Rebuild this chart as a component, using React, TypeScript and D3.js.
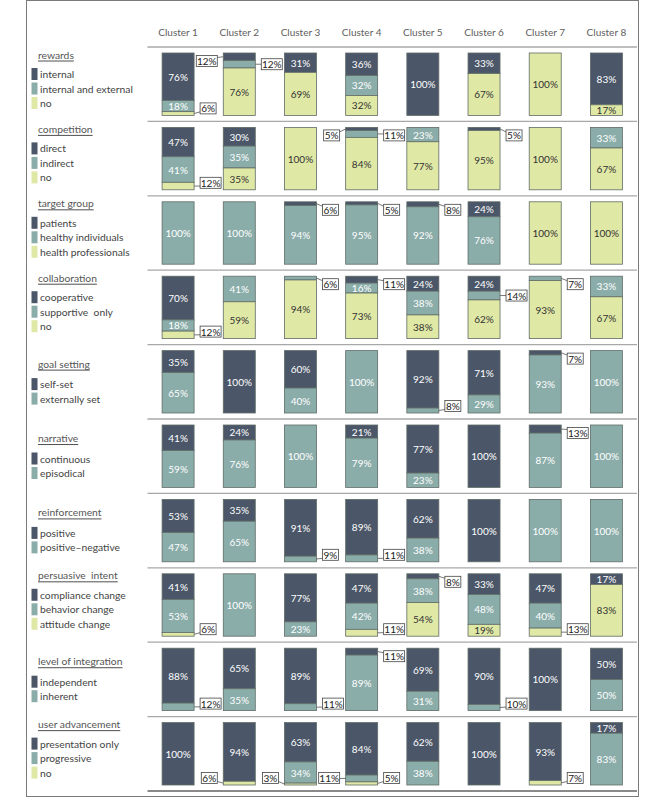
import React from "react";
import * as d3 from "d3";

const clusters = ["Cluster 1", "Cluster 2", "Cluster 3", "Cluster 4", "Cluster 5", "Cluster 6", "Cluster 7", "Cluster 8"];

// each row: values per cluster, in legend order (top segment first)
const rewards = [[76, 18, 6], [12, 12, 76], [31, 0, 69], [36, 32, 32], [100, 0, 0], [33, 0, 67], [0, 0, 100], [83, 0, 17]];
const competition = [[47, 41, 12], [30, 35, 35], [0, 0, 100], [5, 11, 84], [0, 23, 77], [5, 0, 95], [0, 0, 100], [0, 33, 67]];
const targetGroup = [[0, 100, 0], [0, 100, 0], [6, 94, 0], [5, 95, 0], [8, 92, 0], [24, 76, 0], [0, 0, 100], [0, 0, 100]];
const collaboration = [[70, 18, 12], [0, 41, 59], [0, 6, 94], [11, 16, 73], [24, 38, 38], [24, 14, 62], [0, 7, 93], [0, 33, 67]];
const goalSetting = [[35, 65], [100, 0], [60, 40], [0, 100], [92, 8], [71, 29], [7, 93], [0, 100]];
const narrative = [[41, 59], [24, 76], [0, 100], [21, 79], [77, 23], [100, 0], [13, 87], [0, 100]];
const reinforcement = [[53, 47], [35, 65], [91, 9], [89, 11], [62, 38], [100, 0], [0, 100], [0, 100]];
const persuasiveIntent = [[41, 53, 6], [0, 100, 0], [77, 23, 0], [47, 42, 11], [8, 38, 54], [33, 48, 19], [47, 40, 13], [17, 0, 83]];
const integration = [[88, 12], [65, 35], [89, 11], [11, 89], [69, 31], [90, 10], [100, 0], [50, 50]];
const userAdvancement = [[100, 0, 0], [94, 0, 6], [63, 34, 3], [84, 11, 5], [62, 38, 0], [100, 0, 0], [93, 0, 7], [17, 83, 0]];

const rows = [
  { title: "rewards", cats: ["internal", "internal and external", "no"], values: rewards },
  { title: "competition", cats: ["direct", "indirect", "no"], values: competition },
  { title: "target group", cats: ["patients", "healthy individuals", "health professionals"], values: targetGroup },
  { title: "collaboration", cats: ["cooperative", "supportive  only", "no"], values: collaboration },
  { title: "goal setting", cats: ["self-set", "externally set"], values: goalSetting },
  { title: "narrative", cats: ["continuous", "episodical"], values: narrative },
  { title: "reinforcement", cats: ["positive", "positive\u2013negative"], values: reinforcement },
  { title: "persuasive  intent", cats: ["compliance change", "behavior change", "attitude change"], values: persuasiveIntent },
  { title: "level of integration", cats: ["independent", "inherent"], values: integration },
  { title: "user advancement", cats: ["presentation only", "progressive", "no"], values: userAdvancement },
];

// callouts drawn on the left of the bar (row-cluster-segment)
const leftCallouts = ["0-1-0", "1-3-0", "9-1-2", "9-2-2", "9-3-1"];

const colors3 = ["#4b5769", "#8badaa", "#e0e8a6"];
const colors2 = ["#4b5769", "#8badaa"];
const FONT = "Lato, 'Open Sans', sans-serif";

export default function App() {
  const W = 666;
  const H = 799;
  const x = d3.scaleBand().domain(clusters).range([147.5, 637]).paddingInner(0.477).paddingOuter(0.2385);
  const y = d3.scaleBand().domain(rows.map((r) => r.title)).range([47, 791]).paddingInner(0).paddingOuter(0);
  const bw = x.bandwidth();
  const bh = y.bandwidth();

  return (
    <svg width={W} height={H} style={{ position: "absolute", left: 0, top: 0 }} fontFamily={FONT}>
      <rect x={26.5} y={0.5} width={612} height={796} fill="#fff" stroke="#7a7a7a" strokeWidth={1} />
      {clusters.map((c) => (
        <text key={c} x={x(c)! + bw / 2} y={32} textAnchor="middle" dominantBaseline="central" fontSize={10} fill="#606060">
          {c}
        </text>
      ))}
      {d3.range(rows.length + 1).map((i) => {
        const yy = 47 + i * bh;
        const last = i === rows.length;
        return (
          <line key={i} x1={147.5} x2={637} y1={yy} y2={yy} stroke={last ? "#8a8a8a" : "#a8a8a8"} strokeWidth={last ? 2.2 : 1.3} />
        );
      })}
      {rows.map((row, ri) => {
        const top = y(row.title)!;
        const three = row.cats.length === 3;
        const colors = three ? colors3 : colors2;
        const titleY = top + (three ? 7.5 : 19);
        const itemY = (k: number) => top + (three ? 27 : 39.5) + k * 14.5;
        const ys = d3.scaleLinear().domain([0, 100]).range([top + 6, top + bh - 6]);
        const table = row.values.map((v, ci) => {
          const o: any = { cluster: clusters[ci] };
          row.cats.forEach((k, j) => (o[k] = v[j]));
          return o;
        });
        const series = d3.stack<any>().keys(row.cats)(table);
        const labels: any[] = [];
        const callouts: any[] = [];
        series.forEach((s, si) => {
          s.forEach((d, ci) => {
            const v = d[1] - d[0];
            if (v <= 0) return;
            const y0 = ys(d[0]);
            const y1 = ys(d[1]);
            const cx = x(clusters[ci])!;
            const mid = (y0 + y1) / 2;
            if (v >= 15) {
              labels.push({ key: `${si}-${ci}`, x: cx + bw / 2, y: mid, t: `${v}%`, fill: si === 2 ? "#333" : "#fff" });
            } else {
              const left = leftCallouts.includes(`${ri}-${ci}-${si}`);
              const t = `${v}%`;
              const boxW = t.length === 2 ? 16 : 21;
              const boxH = 11;
              const by = Math.max(ys(0) + 8, Math.min(ys(100) - 7, mid));
              const bx = left ? cx - 6 - boxW : cx + bw + 6;
              const ax = left ? cx : cx + bw;
              const ex = left ? bx + boxW : bx;
              const ey = Math.max(by - boxH / 2 + 2, Math.min(by + boxH / 2 - 2, mid));
              callouts.push({ key: `${si}-${ci}`, bx, by, boxW, boxH, ax, ay: mid, ex, ey, t });
            }
          });
        });
        return (
          <g key={row.title}>
            <text x={38} y={titleY} dominantBaseline="central" fontSize={10.3} fill="#555" textDecoration="underline" style={{ whiteSpace: "pre" }}>
              {row.title}
            </text>
            {row.cats.map((c, k) => (
              <g key={c}>
                <rect x={31.5} y={itemY(k) - 6} width={6} height={12} fill={colors[k]} />
                <text x={40} y={itemY(k)} dominantBaseline="central" fontSize={10.3} fill="#444" style={{ whiteSpace: "pre" }}>
                  {c}
                </text>
              </g>
            ))}
            {series.map((s, si) =>
              s.map((d, ci) =>
                d[1] - d[0] > 0 ? (
                  <rect
                    key={`${si}-${ci}`}
                    x={x(clusters[ci])}
                    y={ys(d[0])}
                    width={bw}
                    height={ys(d[1]) - ys(d[0])}
                    fill={colors[si]}
                    stroke="#5f6b66"
                    strokeWidth={0.8}
                  />
                ) : null
              )
            )}
            {labels.map((l) => (
              <text key={l.key} x={l.x} y={l.y} textAnchor="middle" dominantBaseline="central" fontSize={10} fill={l.fill}>
                {l.t}
              </text>
            ))}
            {callouts.map((c) => (
              <g key={c.key}>
                <line x1={c.ax} y1={c.ay} x2={c.ex} y2={c.ey} stroke="#555" strokeWidth={0.8} />
                <rect x={c.bx} y={c.by - c.boxH / 2} width={c.boxW} height={c.boxH} fill="#fff" stroke="#444" strokeWidth={0.8} />
                <text x={c.bx + c.boxW / 2} y={c.by} textAnchor="middle" dominantBaseline="central" fontSize={10} fill="#222">
                  {c.t}
                </text>
              </g>
            ))}
          </g>
        );
      })}
    </svg>
  );
}
